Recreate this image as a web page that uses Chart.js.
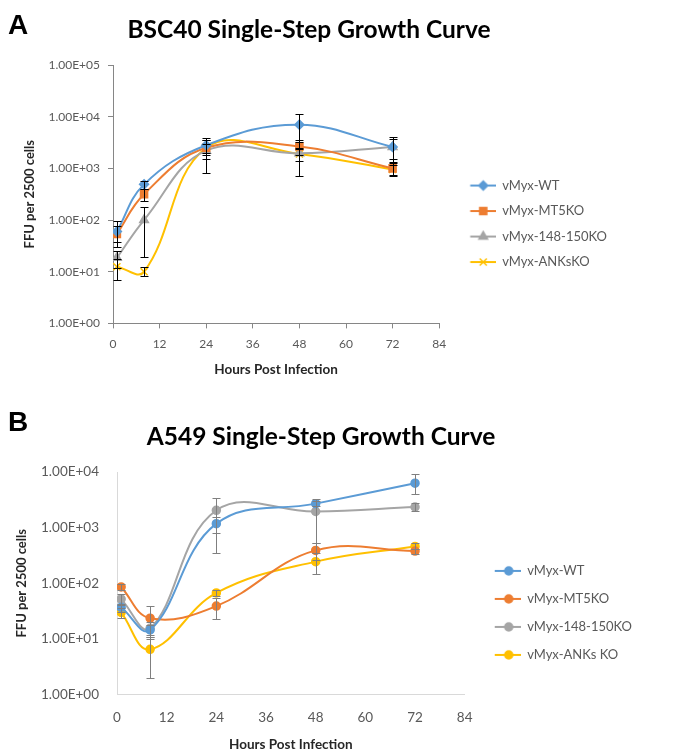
<!DOCTYPE html>
<html>
<head>
<meta charset="utf-8">
<script src="https://cdn.jsdelivr.net/npm/chart.js@4"></script>
<style>
body { margin: 0; background: #fff; }
.panel { position: absolute; left: 0; }
.letter { position: absolute; left: 8px; z-index: 2; font: bold 28px/28px "Liberation Sans", Arial, sans-serif; color: #000; }
</style>
</head>
<body>
<div class="letter" style="top:11px">A</div>
<canvas id="chartA" class="panel" width="695" height="378" style="top:0"></canvas>
<div class="letter" style="top:408px">B</div>
<canvas id="chartB" class="panel" width="695" height="377" style="top:378px"></canvas>
<script>
// ---- data ----
const hours = [1, 8, 24, 48, 72];
const xTicks = [0, 12, 24, 36, 48, 60, 72, 84];

// panel A : BSC40
const namesA = ['vMyx-WT', 'vMyx-MT5KO', 'vMyx-148-150KO', 'vMyx-ANKsKO'];
const wtA    = [60, 490, 2800, 7000, 2600];
const mt5A   = [54, 316, 2500, 2650, 1000];
const ko148A = [18.6, 100, 2200, 1950, 2600];
const anksA  = [12.5, 10, 2500, 1900, 950];
const wtLoA    = [30, 400, 1800, 2500, 1250];
const wtHiA    = [95, 560, 3800, 11500, 4000];
const mt5LoA   = [38, 230, 1500, 1800, 700];
const mt5HiA   = [75, 400, 3500, 3500, 1300];
const ko148LoA = [12, 19, 830, 700, 1500];
const ko148HiA = [25, 180, 3600, 3200, 3700];
const anksLoA  = [7, 8.3, 2000, 1400, 750];
const anksHiA  = [18, 12.5, 3000, 2400, 1150];
const yTicksA = [1, 10, 100, 1000, 10000, 100000];

// panel B : A549
const namesB = ['vMyx-WT', 'vMyx-MT5KO', 'vMyx-148-150KO', 'vMyx-ANKs KO'];
const wtB    = [37, 14.5, 1180, 2700, 6300];
const mt5B   = [86, 23.6, 39, 390, 380];
const ko148B = [52, 15.5, 2050, 1950, 2350];
const anksB  = [30, 6.5, 67, 245, 460];
const wtLoB    = [31, 11, 800, 2400, 4100];
const wtHiB    = [43, 18, 1560, 3000, 9100];
const mt5LoB   = [75, 10, 23, 260, 340];
const mt5HiB   = [97, 39, 55, 520, 420];
const ko148LoB = [40, 12, 350, 520, 2000];
const ko148HiB = [64, 20, 3400, 3300, 2750];
const anksLoB  = [24, 2, 60, 148, 410];
const anksHiB  = [36, 11, 75, 350, 520];
const yTicksB = [1, 10, 100, 1000, 10000];

const colors = ['#5B9BD5', '#ED7D31', '#A5A5A5', '#FFC000'];

Chart.defaults.font.family = 'Lato, "Open Sans", sans-serif';
Chart.defaults.color = '#595959';

const sci = v => {
    const [m, e] = v.toExponential(2).toUpperCase().split('E');
    const n = Number(e);
    return m + 'E' + (n < 0 ? '-' : '+') + String(Math.abs(n)).padStart(2, '0');
};

const pts = arr => hours.map((h, i) => ({x: h, y: arr[i]}));

// legend icon: excel style line with marker in the middle
const makeIcon = (w, x0, xm, color, style, r) => {
    const c = document.createElement('canvas');
    c.width = w; c.height = 14;
    const g = c.getContext('2d');
    g.strokeStyle = color; g.fillStyle = color; g.lineWidth = 2;
    g.beginPath(); g.moveTo(x0, 7); g.lineTo(w, 7); g.stroke();
    g.lineWidth = 1.5;
    if (Chart.helpers && Chart.helpers.drawPoint) {
        Chart.helpers.drawPoint(g, {pointStyle: style, radius: r, borderWidth: 1.5, rotation: 0}, xm, 7);
    } else {
        g.beginPath(); g.arc(xm, 7, r, 0, Math.PI * 2); g.fill();
    }
    return c;
};

const errorBars = {
    id: 'errorBars',
    afterDatasetsDraw(chart, args, opts) {
        const {ctx, scales: {x, y}} = chart;
        ctx.save();
        ctx.strokeStyle = opts.color;
        ctx.lineWidth = 1;
        chart.data.datasets.forEach((ds, i) => {
            if (!chart.isDatasetVisible(i) || !ds.errLow) return;
            ds.data.forEach((p, j) => {
                const lo = ds.errLow[j], hi = ds.errHigh[j];
                if (lo == null || hi == null) return;
                const px = Math.round(x.getPixelForValue(p.x)) + 0.5;
                const y1 = Math.round(y.getPixelForValue(lo)) + 0.5;
                const y2 = Math.round(y.getPixelForValue(hi)) + 0.5;
                ctx.beginPath();
                ctx.moveTo(px, y1); ctx.lineTo(px, y2);
                ctx.moveTo(px - opts.cap, y1); ctx.lineTo(px + opts.cap, y1);
                ctx.moveTo(px - opts.cap, y2); ctx.lineTo(px + opts.cap, y2);
                ctx.stroke();
            });
        });
        ctx.restore();
    }
};

const makeChart = (id, p) => {
    const icons = p.names.map((n, i) => makeIcon(p.boxW, p.lineX0, p.markX, colors[i], p.styles[i], p.radius[i]));
    const datasets = p.names.map((n, i) => ({
        label: n,
        data: pts(p.values[i]),
        errLow: p.lows[i],
        errHigh: p.highs[i],
        borderColor: colors[i],
        backgroundColor: colors[i],
        pointBackgroundColor: colors[i],
        pointBorderColor: colors[i],
        pointStyle: p.styles[i],
        pointRadius: p.radius[i],
        pointBorderWidth: 1.5,
        borderWidth: 2,
        tension: 0.4,
        fill: false
    }));
    return new Chart(document.getElementById(id), {
        type: 'line',
        data: {datasets: datasets},
        plugins: [errorBars],
        options: {
            responsive: false,
            animation: false,
            events: [],
            layout: {padding: p.layout},
            plugins: {
                title: {
                    display: true,
                    text: p.title,
                    color: '#000',
                    font: {size: 24.5, weight: 'bold'},
                    padding: p.titlePad
                },
                legend: {
                    position: 'right',
                    fullSize: false,
                    maxWidth: 240,
                    title: {display: true, text: '', font: {size: 1}, padding: {top: 58, bottom: 0}},
                    labels: {
                        usePointStyle: true,
                        pointStyleWidth: p.boxW,
                        boxHeight: 13,
                        padding: p.legendPad,
                        color: '#595959',
                        font: {size: 13},
                        generateLabels: chart => {
                            const items = Chart.defaults.plugins.legend.labels.generateLabels(chart);
                            items.forEach((it, i) => { it.pointStyle = icons[i]; });
                            return items;
                        }
                    }
                },
                tooltip: {enabled: false},
                errorBars: {color: p.errColor, cap: 4}
            },
            scales: {
                x: {
                    type: 'linear',
                    min: 0,
                    max: 84,
                    afterBuildTicks: s => { s.ticks = xTicks.map(v => ({value: v})); },
                    grid: {display: p.tickMarks, drawOnChartArea: false, drawTicks: p.tickMarks, tickLength: 5, color: p.axisColor},
                    border: {display: true, color: p.axisColor},
                    ticks: {font: {size: p.xTickSize}, color: '#595959', padding: p.xTickPad, maxRotation: 0},
                    title: {
                        display: true,
                        text: 'Hours Post Infection',
                        color: '#262626',
                        font: {size: 13.5, weight: 'bold'},
                        padding: {top: p.xTitlePad, bottom: 0}
                    }
                },
                y: {
                    type: 'logarithmic',
                    min: p.yTicks[0],
                    max: p.yTicks[p.yTicks.length - 1],
                    afterBuildTicks: s => { s.ticks = p.yTicks.map(v => ({value: v})); },
                    afterFit: s => { s.width = p.yWidth; },
                    grid: {display: p.tickMarks, drawOnChartArea: false, drawTicks: p.tickMarks, tickLength: 5, color: p.axisColor},
                    border: {display: true, color: p.axisColor},
                    ticks: {font: {size: p.yTickSize}, color: '#595959', padding: p.yTickPad, callback: v => sci(v)},
                    title: {
                        display: true,
                        text: 'FFU per 2500 cells',
                        color: '#262626',
                        font: {size: 13, weight: 'bold'},
                        padding: {top: p.yTitlePad, bottom: 0}
                    }
                }
            }
        }
    });
};

makeChart('chartA', {
    names: namesA,
    values: [wtA, mt5A, ko148A, anksA],
    lows: [wtLoA, mt5LoA, ko148LoA, anksLoA],
    highs: [wtHiA, mt5HiA, ko148HiA, anksHiA],
    styles: ['rectRot', 'rect', 'triangle', 'crossRot'],
    radius: [4.5, 5, 5, 5],
    yTicks: yTicksA,
    title: 'BSC40 Single-Step Growth Curve',
    titlePad: {top: 15.3, bottom: 20.3},
    layout: {left: 1, right: 78, top: 0, bottom: 0},
    yWidth: 112,
    yTickSize: 12, yTickPad: 8,
    xTickSize: 12, xTickPad: 9,
    xTitlePad: 1, yTitlePad: 21,
    tickMarks: true,
    axisColor: '#868686',
    errColor: '#000',
    boxW: 44, lineX0: 18.5, markX: 31.5,
    legendPad: 12.5
});

makeChart('chartB', {
    names: namesB,
    values: [wtB, mt5B, ko148B, anksB],
    lows: [wtLoB, mt5LoB, ko148LoB, anksLoB],
    highs: [wtHiB, mt5HiB, ko148HiB, anksHiB],
    styles: ['circle', 'circle', 'circle', 'circle'],
    radius: [4, 4, 4, 4],
    yTicks: yTicksB,
    title: 'A549 Single-Step Growth Curve',
    titlePad: {top: 44.3, bottom: 20.3},
    layout: {left: 0, right: 53, top: 0, bottom: 2},
    yWidth: 117,
    yTickSize: 13.5, yTickPad: 18,
    xTickSize: 13.5, xTickPad: 15,
    xTitlePad: -4, yTitlePad: 13.7,
    tickMarks: false,
    axisColor: '#D9D9D9',
    errColor: '#7F7F7F',
    boxW: 41, lineX0: 15, markX: 29,
    legendPad: 15
});
</script>
</body>
</html>
